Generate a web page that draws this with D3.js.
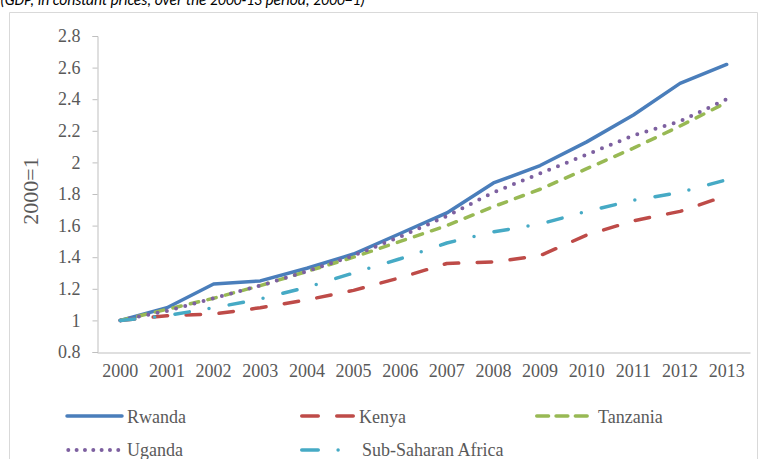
<!DOCTYPE html>
<html>
<head>
<meta charset="utf-8">
<script src="https://cdn.jsdelivr.net/npm/d3@7"></script>
<style>
  html, body { margin: 0; padding: 0; background: #fff; }
  svg { display: block; }
</style>
</head>
<body>
<svg id="chart" width="759" height="459"></svg>
<script>
const years = ["2000","2001","2002","2003","2004","2005","2006","2007","2008","2009","2010","2011","2012","2013"];
const rwanda   = [1.00,1.08,1.23,1.25,1.33,1.42,1.55,1.68,1.87,1.98,2.13,2.30,2.50,2.62];
const kenya    = [1.00,1.03,1.04,1.08,1.13,1.19,1.27,1.36,1.37,1.41,1.54,1.63,1.69,1.79];
const tanzania = [1.00,1.07,1.14,1.22,1.31,1.40,1.50,1.60,1.72,1.83,1.96,2.09,2.23,2.38];
const uganda   = [1.00,1.06,1.14,1.22,1.31,1.41,1.53,1.66,1.81,1.93,2.05,2.17,2.26,2.40];
const ssa      = [1.00,1.03,1.08,1.135,1.21,1.30,1.39,1.49,1.56,1.61,1.69,1.76,1.81,1.89];
const yTicks   = [0.8,1,1.2,1.4,1.6,1.8,2,2.2,2.4,2.6,2.8];
const seriesNames = ["Rwanda","Kenya","Tanzania","Uganda","Sub-Saharan Africa"];
const titleText = "(GDP, in constant prices, over the 2000-13 period, 2000=1)";
const yTitle = "2000=1";

const svg = d3.select("#chart");
const textColor = "#595959";
const axisColor = "#bfbfbf";
const serif = "'Liberation Serif','Times New Roman',serif";

// frame
svg.append("path").attr("d","M9.5,459 L9.5,12.5 L757.5,12.5 L757.5,459")
  .attr("fill","none").attr("stroke","#d9d9d9").attr("stroke-width",1);

// title (cut off at the top edge, as in the reference)
svg.append("text").attr("x",0).attr("y",5)
  .attr("font-family","Carlito,'Open Sans','Liberation Sans',sans-serif")
  .attr("font-style","italic").attr("font-size",17).attr("fill","#000")
  .attr("textLength",365).attr("lengthAdjust","spacingAndGlyphs")
  .text(titleText);

const x = d3.scaleBand().domain(years).range([97, 750]).padding(0);
const y = d3.scaleLinear().domain([0.8, 2.8]).range([352, 36]);
const cx = d => x(d) + x.bandwidth()/2;

// y axis
const yAxis = svg.append("g").attr("transform","translate(97.5,0)")
  .call(d3.axisLeft(y).tickValues(yTicks).tickSize(5).tickPadding(12)
    .tickFormat(d => d3.format("")(+d.toFixed(1))));
yAxis.select(".domain").attr("stroke",axisColor);
yAxis.selectAll(".tick line").attr("stroke",axisColor);
yAxis.selectAll("text").attr("font-family",serif).attr("font-size",18).attr("fill",textColor);

// x axis
const xAxis = svg.append("g").attr("transform","translate(0,352.5)")
  .call(d3.axisBottom(x).tickSize(0).tickPadding(12).tickSizeOuter(0));
xAxis.select(".domain").attr("stroke",axisColor);
xAxis.selectAll("text").attr("font-family",serif).attr("font-size",18).attr("fill",textColor);

// y title
svg.append("text").attr("transform","translate(38,191) rotate(-90)")
  .attr("text-anchor","middle").attr("font-family",serif).attr("font-size",22)
  .attr("fill",textColor).text(yTitle);

const series = [
  {name: seriesNames[0], values: rwanda,   color: "#4a7ebb", dash: null, w: 3.5},
  {name: seriesNames[1], values: kenya,    color: "#be4b48", dash: "14.5,18.5", w: 3.5},
  {name: seriesNames[2], values: tanzania, color: "#98b954", dash: "8.5,9.5", w: 3.5},
  {name: seriesNames[3], values: uganda,   color: "#7d60a0", dash: "0,9.5", w: 4},
  {name: seriesNames[4], values: ssa,      color: "#46aac5", dash: "14.5,20,0,20.5", w: 3.5}
];

const line = d3.line().x((d,i) => cx(years[i])).y(d => y(d));

svg.append("g").selectAll("path").data(series).join("path")
  .attr("d", d => line(d.values))
  .attr("fill","none")
  .attr("stroke", d => d.color)
  .attr("stroke-width", d => d.w)
  .attr("stroke-linecap", "round")
  .attr("stroke-linejoin","round")
  .attr("stroke-dasharray", d => d.dash);

// legend
const legend = [
  {i:0, x1:67, x2:122, y:416, dash:null, tx:127, ty:423},
  {i:1, x1:301.75, x2:353.25, y:416, dash:"16.5,18.5", tx:359, ty:423},
  {i:2, x1:536.75, x2:588.25, y:416, dash:"11.8,7.5", tx:598, ty:423},
  {i:3, x1:68.3, x2:118.4, y:450, dash:"0,8.33", tx:127, ty:456},
  {i:4, x1:301.75, x2:338.1, y:450, dash:"16.5,19.85,0,100", tx:362, ty:456}
];
const lg = svg.append("g");
legend.forEach(l => {
  const s = series[l.i];
  lg.append("line").attr("x1",l.x1).attr("x2",l.x2).attr("y1",l.y).attr("y2",l.y)
    .attr("stroke",s.color).attr("stroke-width",s.w).attr("stroke-linecap","round")
    .attr("stroke-dasharray",l.dash);
  lg.append("text").attr("x",l.tx).attr("y",l.ty).attr("font-family",serif)
    .attr("font-size",18).attr("fill",textColor).text(s.name);
});
</script>
</body>
</html>
